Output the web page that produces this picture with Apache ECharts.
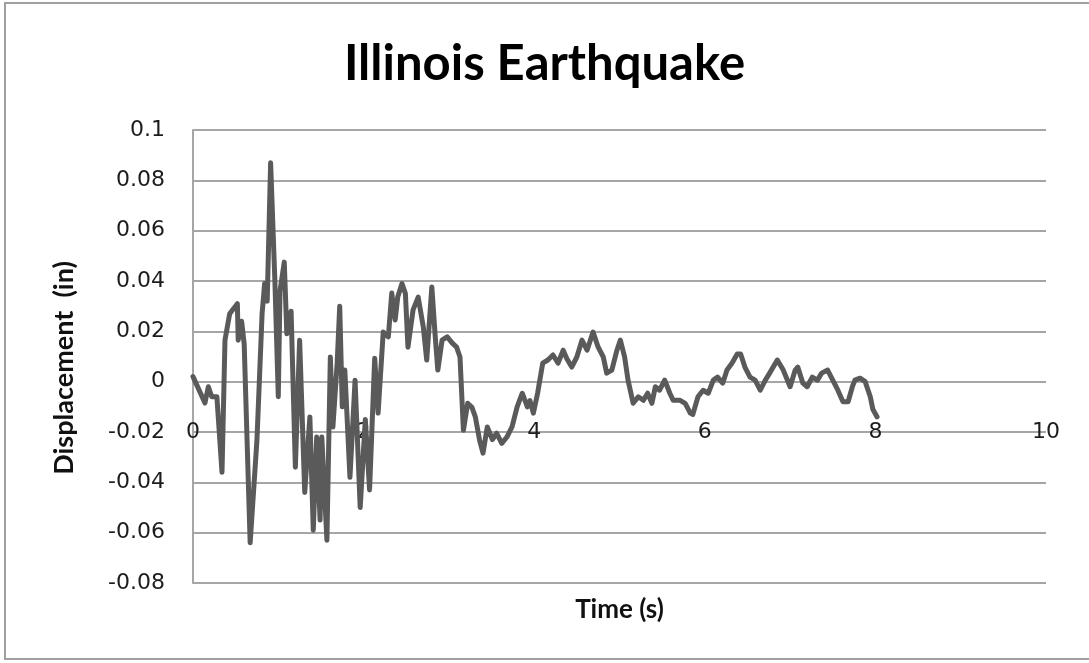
<!DOCTYPE html>
<html>
<head>
<meta charset="utf-8">
<title>Illinois Earthquake</title>
<script src="https://cdn.jsdelivr.net/npm/echarts@6/dist/echarts.min.js"></script>
<style>
  html, body { margin: 0; padding: 0; background: #fff; }
  #chart { width: 1089px; height: 663px; }
</style>
</head>
<body>
<div id="chart"></div>
<script>
// Ground displacement record: time (s) and displacement (in)
const timeS = [
  0.00, 0.14, 0.18, 0.22, 0.28, 0.34, 0.375, 0.43, 0.52, 0.53, 0.57, 0.60, 0.67, 0.75, 0.81, 0.84, 0.87, 0.91, 0.96, 1.00,
  1.02, 1.07, 1.10, 1.15, 1.20, 1.25, 1.31, 1.37, 1.41, 1.45, 1.49, 1.51, 1.57, 1.61, 1.64, 1.69, 1.72, 1.75, 1.78, 1.84,
  1.90, 1.96, 2.02, 2.07, 2.13, 2.17, 2.23, 2.29, 2.33, 2.37, 2.40, 2.45, 2.49, 2.52, 2.58, 2.64, 2.70, 2.74, 2.80, 2.84,
  2.87, 2.92, 2.98, 3.04, 3.09, 3.13, 3.17, 3.22, 3.27, 3.31, 3.36, 3.40, 3.45, 3.51, 3.56, 3.62, 3.68, 3.74, 3.80, 3.86,
  3.92, 3.95, 3.99, 4.04, 4.10, 4.16, 4.22, 4.28, 4.34, 4.38, 4.44, 4.50, 4.56, 4.62, 4.69, 4.75, 4.81, 4.85, 4.91, 4.97,
  5.01, 5.06, 5.10, 5.16, 5.22, 5.28, 5.33, 5.38, 5.42, 5.47, 5.53, 5.59, 5.63, 5.71, 5.77, 5.83, 5.86, 5.92, 5.98, 6.04,
  6.10, 6.15, 6.21, 6.26, 6.32, 6.38, 6.42, 6.47, 6.53, 6.59, 6.65, 6.71, 6.76, 6.85, 6.92, 7.00, 7.06, 7.09, 7.15, 7.20,
  7.26, 7.32, 7.37, 7.44, 7.50, 7.56, 7.62, 7.68, 7.73, 7.76, 7.82, 7.88, 7.94, 7.97, 8.02
];
const displacementIn = [
  0.002, -0.0085, -0.002, -0.006, -0.006, -0.036, 0.0165, 0.027, 0.031, 0.0165, 0.024, 0.015, -0.064, -0.023, 0.027, 0.039, 0.032, 0.087, 0.040, -0.006,
  0.036, 0.0475, 0.019, 0.028, -0.034, 0.0165, -0.044, -0.014, -0.059, -0.022, -0.055, -0.022, -0.063, 0.0098, -0.018, 0.0074, 0.030, -0.010, 0.0046, -0.038,
  0.0006, -0.050, -0.015, -0.043, 0.0093, -0.0125, 0.0197, 0.0178, 0.0352, 0.0245, 0.0336, 0.039, 0.035, 0.0137, 0.0285, 0.0336, 0.0217, 0.0086, 0.0376, 0.0178,
  0.0046, 0.0165, 0.0178, 0.0153, 0.0137, 0.0098, -0.0193, -0.0086, -0.0102, -0.014, -0.0233, -0.0284, -0.018, -0.023, -0.0205, -0.0245, -0.022, -0.018, -0.010, -0.0046,
  -0.010, -0.0075, -0.0125, -0.0046, 0.0074, 0.0086, 0.0106, 0.0074, 0.0125, 0.0093, 0.0058, 0.0098, 0.0165, 0.0125, 0.0197, 0.0137, 0.0098, 0.0034, 0.0046, 0.0125,
  0.0165, 0.0098, 0.0006, -0.0086, -0.006, -0.0074, -0.0046, -0.0086, -0.002, -0.0034, 0.0006, -0.0046, -0.0074, -0.0074, -0.0086, -0.0125, -0.013, -0.006, -0.0034, -0.0046,
  0.0006, 0.0018, -0.0006, 0.0046, 0.0074, 0.011, 0.011, 0.0058, 0.0018, 0.0006, -0.0034, 0.0006, 0.0034, 0.0086, 0.0046, -0.002, 0.0046, 0.0058, -0.0006, -0.002,
  0.0018, 0.0006, 0.0034, 0.0046, 0.0006, -0.0034, -0.008, -0.008, -0.002, 0.0006, 0.0014, 0, -0.006, -0.011, -0.014
];

const chartTitle = 'Illinois Earthquake';
const xTitle = 'Time (s)';
const yTitle = 'Displacement  (in)';

const points = timeS.map((t, i) => [t, displacementIn[i]]);

const tickFont = { fontFamily: 'DejaVu Sans', fontSize: 22, color: '#1c1c1c' };
const nameFont = { fontFamily: 'Lato', fontWeight: 'bold', color: '#111' };
const gridGray = '#a6a6a6';

const chart = echarts.init(document.getElementById('chart'), null, { renderer: 'canvas' });
chart.setOption({
  animation: false,
  backgroundColor: '#ffffff',
  title: {
    text: chartTitle,
    left: 'center',
    top: 35,
    textStyle: { fontFamily: 'Lato', fontWeight: 'bold', fontSize: 49, color: '#000' }
  },
  grid: { left: 193, right: 43, top: 130, bottom: 80, containLabel: false, outerBoundsMode: 'none' },
  graphic: [
    {
      type: 'rect',
      shape: { x: 5, y: 3, width: 1100, height: 656 },
      style: { fill: 'none', stroke: '#a0a0a0', lineWidth: 2 },
      silent: true
    },
    {
      // vertical axis title, rotated to read bottom-to-top
      type: 'text',
      x: 64, y: 368,
      rotation: Math.PI / 2,
      style: { text: yTitle, ...nameFont, fontSize: 27, align: 'center', verticalAlign: 'middle', fill: '#111' },
      silent: true
    }
  ],
  xAxis: {
    type: 'value',
    min: 0, max: 10, interval: 2,
    // the time labels sit on the -0.02 row, just below the zero line
    axisLine: { show: false, onZero: false },
    axisTick: { show: false },
    splitLine: { show: false },
    axisLabel: { ...tickFont, margin: -162 },
    name: xTitle,
    nameLocation: 'middle',
    nameGap: 14,
    nameTextStyle: { ...nameFont, fontSize: 26 }
  },
  yAxis: {
    type: 'value',
    min: -0.08, max: 0.1, interval: 0.02,
    axisLine: { show: true, lineStyle: { color: gridGray, width: 2 } },
    axisTick: { show: false },
    splitLine: { show: true, lineStyle: { color: gridGray, width: 2 } },
    axisLabel: { ...tickFont, margin: 28, formatter: v => String(+v.toFixed(2)) }
  },
  series: [{
    type: 'line',
    data: points,
    showSymbol: false,
    smooth: false,
    lineStyle: { color: '#5a5a5a', width: 5, cap: 'round', join: 'round' }
  }]
});
</script>
</body>
</html>
